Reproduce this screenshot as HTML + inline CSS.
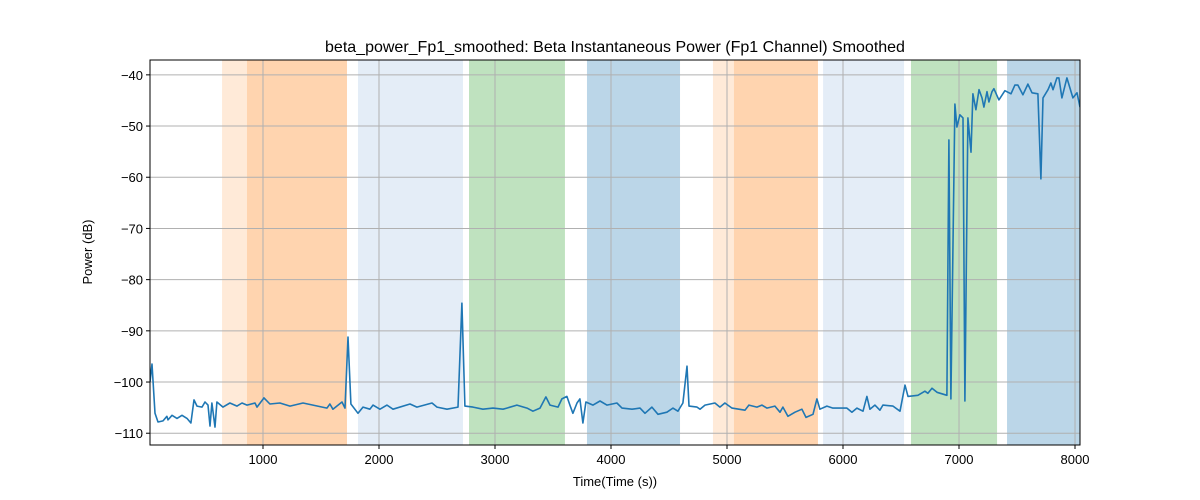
<!DOCTYPE html>
<html><head><meta charset="utf-8"><style>
body{margin:0;background:#fff;}
svg{display:block;font-family:"Liberation Sans","DejaVu Sans",sans-serif;}
</style></head><body>
<svg id="chart" width="1200" height="500">
<text x="615" y="52" text-anchor="middle" font-size="16" fill="#000">beta_power_Fp1_smoothed: Beta Instantaneous Power (Fp1 Channel) Smoothed</text>
<text x="615" y="486" text-anchor="middle" font-size="13" fill="#000">Time(Time (s))</text>
<text x="92" y="252" text-anchor="middle" font-size="13" fill="#000" transform="rotate(-90 92 252)">Power (dB)</text>
<g id="bands"></g>
<g id="grid"></g>
<g id="series"></g>
<g id="axes"></g>
</svg>
<script>
const times=[26,43,69,95,138,172,181,216,259,302,345,379,405,431,474,500,526,543,560,586,603,655,715,776,819,862,931,948,1009,1060,1146,1233,1345,1431,1552,1577,1603,1681,1707,1733,1758,1819,1862,1922,1948,2008,2069,2121,2267,2327,2457,2500,2586,2681,2715,2741,2810,2896,2983,3069,3103,3189,3276,3327,3388,3439,3474,3543,3577,3620,3646,3672,3707,3732,3758,3784,3845,3905,3965,4051,4095,4181,4250,4293,4353,4405,4482,4534,4577,4620,4655,4672,4741,4767,4810,4896,4939,4982,5043,5155,5189,5258,5301,5344,5413,5457,5482,5525,5586,5646,5681,5741,5775,5801,5861,5913,6034,6077,6120,6172,6206,6232,6275,6318,6344,6431,6491,6534,6560,6646,6706,6732,6767,6810,6896,6913,6930,6965,6982,7008,7034,7051,7077,7103,7120,7146,7172,7198,7215,7241,7258,7284,7301,7344,7396,7448,7482,7508,7551,7594,7629,7680,7706,7724,7767,7792,7810,7844,7861,7887,7930,7982,8017,8043];
const power=[-100,-96.5,-106.1,-107.8,-107.6,-106.7,-107.4,-106.5,-107.1,-106.5,-107.1,-108.0,-103.5,-104.7,-104.9,-103.9,-104.5,-108.6,-104.1,-108.8,-103.9,-104.9,-104.1,-104.7,-104.1,-104.5,-104.1,-104.9,-103.1,-104.3,-104.1,-104.7,-104.1,-104.5,-105.1,-104.3,-105.3,-103.9,-105.1,-91.2,-104.3,-106.1,-104.9,-105.3,-104.5,-105.3,-104.5,-105.3,-104.3,-104.9,-104.1,-104.9,-105.3,-104.9,-84.6,-104.7,-104.9,-105.3,-105.1,-105.3,-105.1,-104.5,-105.1,-105.7,-105.1,-102.9,-104.5,-104.9,-103.3,-102.8,-104.5,-106.1,-104.1,-103.3,-108.0,-103.9,-104.5,-103.7,-104.5,-104.1,-105.1,-105.3,-105.1,-106.1,-104.9,-106.3,-105.9,-105.1,-105.7,-104.1,-96.9,-104.7,-104.9,-105.3,-104.5,-104.1,-104.9,-104.1,-105.1,-105.5,-104.5,-104.9,-104.5,-105.1,-104.7,-105.9,-104.9,-106.7,-105.9,-105.3,-106.9,-106.3,-103.3,-105.3,-104.7,-105.1,-105.1,-105.9,-105.1,-105.7,-102.8,-105.3,-104.5,-105.5,-104.5,-104.7,-105.7,-100.6,-102.8,-102.6,-101.8,-102.2,-101.2,-102.0,-102.6,-52.7,-103.3,-45.7,-50.2,-47.8,-48.4,-103.7,-48.4,-55.1,-43.7,-46.8,-42.9,-44.5,-46.3,-43.3,-45.3,-43.3,-42.7,-44.9,-43.1,-43.7,-42.0,-42.0,-43.9,-41.8,-43.5,-43.7,-60.3,-44.5,-42.9,-41.6,-42.9,-40.6,-40.6,-44.5,-40.6,-44.5,-43.5,-46.3];
const bandStarts=[647,862,1819,2776,3793,4879,5060,5828,6586,7414];
const bandEnds=[1724,1724,2724,3603,4595,5784,5784,6526,7328,8100];
const bandColors=['rgba(255,127,14,0.16)','rgba(255,127,14,0.2)','rgba(174,199,232,0.33)','rgba(44,160,44,0.3)','rgba(31,119,180,0.3)','rgba(255,127,14,0.16)','rgba(255,127,14,0.2)','rgba(174,199,232,0.33)','rgba(44,160,44,0.3)','rgba(31,119,180,0.3)'];
const xTicks=[1000,2000,3000,4000,5000,6000,7000,8000];
const yTicks=[-110,-100,-90,-80,-70,-60,-50,-40];

const L=150,R=1080,T=60,B=445,X0=26,X1=8043,Y0=-112.3,Y1=-37.1;
const NS='http://www.w3.org/2000/svg';
const xs=t=>L+(t-X0)/(X1-X0)*(R-L);
const ys=v=>B-(v-Y0)/(Y1-Y0)*(B-T);
function mk(tag,attrs,parent){const e=document.createElementNS(NS,tag);for(const k in attrs)e.setAttribute(k,attrs[k]);parent.appendChild(e);return e;}
const gB=document.getElementById('bands'),gG=document.getElementById('grid'),gS=document.getElementById('series'),gA=document.getElementById('axes');
for(let i=0;i<bandStarts.length;i++){
  const x1=Math.max(L,xs(bandStarts[i])),x2=Math.min(R,xs(bandEnds[i]));
  const r=mk('rect',{x:x1,y:T,width:x2-x1,height:B-T,fill:bandColors[i]},gB);
  
  
}
xTicks.forEach(t=>{
  const x=xs(t);
  const g=mk('line',{x1:x,x2:x,y1:T,y2:B,stroke:'#b0b0b0','stroke-width':1},gG);
  
  
  mk('line',{x1:x,x2:x,y1:B,y2:B+4,stroke:'#000','stroke-width':1},gA);
  const tx=mk('text',{x:x,y:B+19,'text-anchor':'middle','font-size':13},gA);
  tx.textContent=t;
  
  
});
yTicks.forEach(v=>{
  const y=ys(v);
  const g=mk('line',{x1:L,x2:R,y1:y,y2:y,stroke:'#b0b0b0','stroke-width':1},gG);
  
  
  mk('line',{x1:L-4,x2:L,y1:y,y2:y,stroke:'#000','stroke-width':1},gA);
  const tx=mk('text',{x:L-7,y:y+5,'text-anchor':'end','font-size':13},gA);
  tx.textContent=String(v).replace('-','\u2212');
  
  
});
const d=times.map((t,i)=>(i?'L':'M')+xs(t).toFixed(1)+' '+ys(power[i]).toFixed(1)).join(' ');
const cp=mk('clipPath',{id:'clip'},gS);mk('rect',{x:L,y:T,width:R-L,height:B-T},cp);
const p=mk('path',{d:d,fill:'none',stroke:'#1f77b4','stroke-width':1.6,'stroke-linejoin':'round','clip-path':'url(#clip)'},gS);


const fr=mk('rect',{x:L,y:T,width:R-L,height:B-T,fill:'none',stroke:'#000','stroke-width':1},gA);


</script>
</body></html>
